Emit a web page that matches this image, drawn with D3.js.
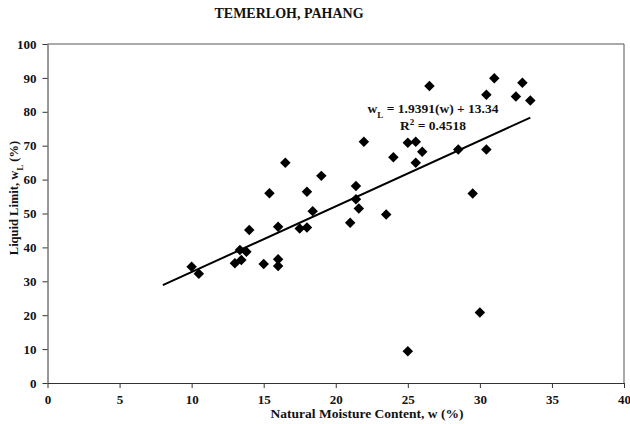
<!DOCTYPE html>
<html>
<head>
<meta charset="utf-8">
<script src="https://cdn.jsdelivr.net/npm/d3@7"></script>
<style>
  body { margin: 0; background: #fff; }
  svg text { font-family: "Liberation Serif", "Times New Roman", serif; font-weight: bold; fill: #111; }
</style>
</head>
<body>
<svg id="chart" width="630" height="424"></svg>
<script>
// natural moisture content w (%)
var moisture = [10.0, 10.5, 13.0, 13.45, 13.35, 13.8, 14.0, 15.0, 15.4, 16.0,
  16.0, 16.0, 16.5, 17.5, 18.0, 18.0, 18.4, 19.0, 21.0, 21.4,
  21.4, 21.6, 21.95, 23.5, 24.0, 25.0, 25.55, 25.55, 26.0, 26.5,
  28.5, 29.5, 30.0, 25.0, 30.45, 30.45, 31.0, 32.5, 32.95, 33.5];
// liquid limit wL (%)
var liquidLimit = [34.3, 32.2, 35.3, 36.3, 39.2, 38.7, 45.1, 35.1, 56.0, 46.1,
  36.5, 34.5, 65.0, 45.6, 45.9, 56.4, 50.7, 61.1, 47.3, 58.1,
  54.2, 51.5, 71.2, 49.7, 66.6, 70.9, 71.2, 65.0, 68.2, 87.6,
  68.9, 55.9, 20.8, 9.4, 68.9, 85.0, 89.9, 84.5, 88.6, 83.3];

var xTicks = [0, 5, 10, 15, 20, 25, 30, 35, 40];
var yTicks = [0, 10, 20, 30, 40, 50, 60, 70, 80, 90, 100];

// linear trend line given on the chart
var slope = 1.9391, intercept = 13.34;
var trendRange = [8, 33.5];

var svg = d3.select("#chart");

var x = d3.scaleLinear().domain([0, 40]).range([47.5, 624]);
var y = d3.scaleLinear().domain([0, 100]).range([383, 44]);

// title
svg.append("text")
  .attr("x", 289).attr("y", 18)
  .attr("text-anchor", "middle")
  .style("font-size", "14px")
  .text("TEMERLOH, PAHANG");

// frame on right and top
svg.append("line")
  .attr("x1", x(0)).attr("x2", x(40))
  .attr("y1", y(100)).attr("y2", y(100))
  .attr("stroke", "#555").attr("stroke-width", 1);
svg.append("line")
  .attr("x1", x(40)).attr("x2", x(40))
  .attr("y1", y(100)).attr("y2", y(0))
  .attr("stroke", "#555").attr("stroke-width", 1);

// axes
var xAxis = svg.append("g")
  .attr("transform", "translate(0," + y(0) + ")")
  .call(d3.axisBottom(x).tickValues(xTicks).tickSize(5).tickSizeOuter(0).tickPadding(7));
var yAxis = svg.append("g")
  .attr("transform", "translate(" + x(0) + ",0)")
  .call(d3.axisLeft(y).tickValues(yTicks).tickSize(5).tickSizeOuter(0).tickPadding(6));

[xAxis, yAxis].forEach(function (g) {
  g.select(".domain").attr("stroke", "#333");
  g.selectAll(".tick line").attr("stroke", "#333");
  g.selectAll("text").style("font-size", "13px").attr("fill", "#111")
    .style("font-family", "Liberation Serif, serif").style("font-weight", "bold");
});

// axis titles
svg.append("text")
  .attr("x", 367).attr("y", 418)
  .attr("text-anchor", "middle")
  .style("font-size", "13.5px")
  .text("Natural Moisture Content,  w (%)");

var yt = svg.append("text")
  .attr("transform", "translate(18,198) rotate(-90)")
  .attr("text-anchor", "middle")
  .style("font-size", "12.5px");
yt.append("tspan").text("Liquid Limit, w");
yt.append("tspan").attr("baseline-shift", "sub").style("font-size", "9px").text("L");
yt.append("tspan").text(" (%)");

// trend line
svg.append("line")
  .attr("x1", x(trendRange[0])).attr("y1", y(slope * trendRange[0] + intercept))
  .attr("x2", x(trendRange[1])).attr("y2", y(slope * trendRange[1] + intercept))
  .attr("stroke", "#000").attr("stroke-width", 2);

// points
var pts = moisture.map(function (d, i) { return [d, liquidLimit[i]]; });
svg.selectAll("path.pt")
  .data(pts)
  .enter()
  .append("path")
  .attr("class", "pt")
  .attr("d", d3.symbol().type(d3.symbolSquare).size(55))
  .attr("transform", function (d) {
    return "translate(" + x(d[0]) + "," + y(d[1]) + ") rotate(45)";
  })
  .attr("fill", "#000");

// equation
var eq = svg.append("text")
  .attr("x", 433).attr("y", 113)
  .attr("text-anchor", "middle")
  .style("font-size", "13.5px");
eq.append("tspan").text("w");
eq.append("tspan").attr("baseline-shift", "sub").style("font-size", "9px").text("L");
eq.append("tspan").text(" = 1.9391(w) + 13.34");

var r2 = svg.append("text")
  .attr("x", 433).attr("y", 130)
  .attr("text-anchor", "middle")
  .style("font-size", "13.5px");
r2.append("tspan").text("R");
r2.append("tspan").attr("baseline-shift", "super").style("font-size", "9px").text("2");
r2.append("tspan").text(" = 0.4518");
</script>
</body>
</html>
